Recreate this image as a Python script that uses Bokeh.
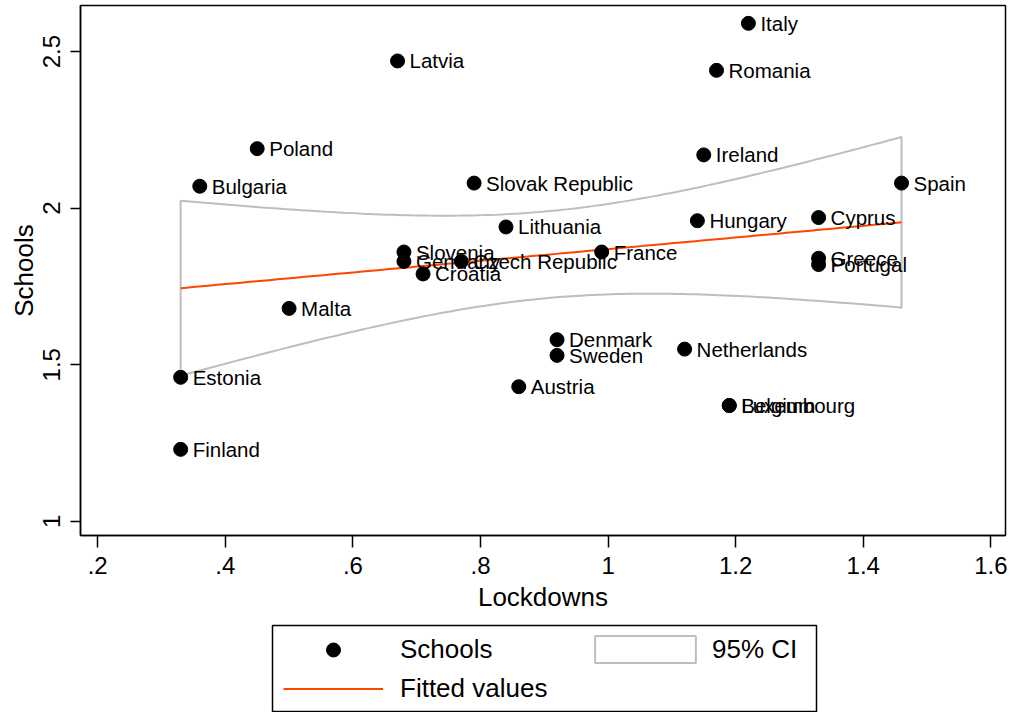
import numpy as np
from bokeh.plotting import figure
from bokeh.layouts import column
from bokeh.models import (ColumnDataSource, Legend, LegendItem, FixedTicker,
                          Range1d, BoxAnnotation)
from bokeh.core.properties import value
from bokeh.embed import file_html
from bokeh.resources import INLINE

FONT = "Liberation Sans"
DOT_COLOR = "black"
FIT_COLOR = "#ff4500"
CI_COLOR = "#bebebe"

countries = ["Italy", "Latvia", "Romania", "Poland", "Ireland", "Bulgaria",
             "Slovak Republic", "Spain", "Cyprus", "Hungary", "Lithuania",
             "Slovenia", "Germany", "Czech Republic", "Croatia", "France",
             "Greece", "Portugal", "Malta", "Denmark", "Sweden", "Netherlands",
             "Estonia", "Austria", "Belgium", "Luxembourg", "Finland"]
lockdowns = [1.22, 0.67, 1.17, 0.45, 1.15, 0.36,
             0.79, 1.46, 1.33, 1.14, 0.84,
             0.68, 0.68, 0.77, 0.71, 0.99,
             1.33, 1.33, 0.50, 0.92, 0.92, 1.12,
             0.33, 0.86, 1.19, 1.19, 0.33]
schools = [2.59, 2.47, 2.44, 2.19, 2.17, 2.07,
           2.08, 2.08, 1.97, 1.96, 1.94,
           1.86, 1.83, 1.83, 1.79, 1.86,
           1.84, 1.82, 1.68, 1.58, 1.53, 1.55,
           1.46, 1.43, 1.37, 1.37, 1.23]

x_ticks = [0.2, 0.4, 0.6, 0.8, 1.0, 1.2, 1.4, 1.6]
x_tick_labels = [".2", ".4", ".6", ".8", "1", "1.2", "1.4", "1.6"]
y_ticks = [1.0, 1.5, 2.0, 2.5]
y_tick_labels = ["1", "1.5", "2", "2.5"]

# Linear fit with 95% confidence band for the mean prediction
x = np.array(lockdowns)
y = np.array(schools)
n = len(x)
slope, intercept = np.polyfit(x, y, 1)
resid = y - (intercept + slope * x)
s = np.sqrt((resid ** 2).sum() / (n - 2))
xbar = x.mean()
sxx = ((x - xbar) ** 2).sum()
t_crit = 2.0595  # t quantile (0.975) with n - 2 = 25 degrees of freedom
xs = np.linspace(x.min(), x.max(), 120)
fit = intercept + slope * xs
half = t_crit * s * np.sqrt(1.0 / n + (xs - xbar) ** 2 / sxx)
lo = fit - half
hi = fit + half

BORDER_L, FRAME_W, BORDER_R = 80, 925, 6

# ---- main scatter plot ----
p = figure(frame_width=FRAME_W, frame_height=530,
           x_range=Range1d(0.173, 1.623), y_range=Range1d(0.955, 2.647),
           output_backend="svg", toolbar_location=None,
           min_border_left=BORDER_L, min_border_right=BORDER_R,
           min_border_top=5, min_border_bottom=85,
           background_fill_color="white", border_fill_color="white")
p.outline_line_color = "black"
p.outline_line_width = 1.5
p.xgrid.visible = False
p.ygrid.visible = False

p.patch(np.concatenate([xs, xs[::-1]]), np.concatenate([lo, hi[::-1]]),
        fill_alpha=0, line_color=CI_COLOR, line_width=2)
p.line(xs, fit, line_color=FIT_COLOR, line_width=2)

src = ColumnDataSource(dict(x=lockdowns, y=schools, name=countries))
p.scatter("x", "y", source=src, size=14, marker="circle",
          fill_color=DOT_COLOR, line_color=DOT_COLOR)
p.text("x", "y", text="name", source=src, x_offset=12, text_baseline="middle",
       text_align="left", text_font=value(FONT), text_font_size="20.5px",
       text_color="black")

for ax in (p.xaxis[0], p.yaxis[0]):
    ax.axis_line_color = "black"
    ax.axis_line_width = 1.5
    ax.major_tick_line_color = "black"
    ax.major_tick_line_width = 1.5
    ax.major_tick_in = 0
    ax.minor_tick_line_color = None
    ax.major_label_text_font = FONT
    ax.major_label_text_font_size = "24px"
    ax.major_label_text_color = "black"
    ax.axis_label_text_font = FONT
    ax.axis_label_text_font_size = "26px"
    ax.axis_label_text_font_style = "normal"
    ax.axis_label_text_color = "black"

p.xaxis.ticker = FixedTicker(ticks=x_ticks)
p.xaxis.major_label_overrides = dict(zip(x_ticks, x_tick_labels))
p.xaxis.axis_label = "Lockdowns"
p.xaxis.major_tick_out = 12
p.xaxis.major_label_standoff = 9
p.xaxis.axis_label_standoff = 5

p.yaxis.ticker = FixedTicker(ticks=y_ticks)
p.yaxis.major_label_overrides = dict(zip(y_ticks, y_tick_labels))
p.yaxis.axis_label = "Schools"
p.yaxis.major_tick_out = 10
p.yaxis.major_label_orientation = "vertical"
p.yaxis.major_label_standoff = 10
p.yaxis.axis_label_standoff = 2

# ---- legend strip below the plot ----
LEG_H = 92
leg = figure(frame_width=FRAME_W, frame_height=LEG_H,
             x_range=Range1d(0, 1), y_range=Range1d(0, 1),
             output_backend="svg", toolbar_location=None,
             min_border_left=BORDER_L, min_border_right=BORDER_R,
             min_border_top=0, min_border_bottom=0,
             background_fill_color="white", border_fill_color="white")
leg.axis.visible = False
leg.grid.visible = False
leg.outline_line_color = None

# legend box
leg.add_layout(BoxAnnotation(left=272, right=816, top=5, bottom=91,
                             left_units="canvas", right_units="canvas",
                             top_units="canvas", bottom_units="canvas",
                             fill_alpha=0, line_color="black", line_alpha=1,
                             line_width=1.5))

# key glyphs: styled like the plot's renderers, holding no drawable point
key_src = ColumnDataSource(dict(x=[np.nan], y=[np.nan]))
key_pts = leg.scatter("x", "y", source=key_src, size=14, marker="circle",
                      fill_color=DOT_COLOR, line_color=DOT_COLOR)
key_fit = leg.line("x", "y", source=key_src, line_color=FIT_COLOR, line_width=2)
key_ci = leg.patch("x", "y", source=key_src, fill_alpha=0,
                   line_color=CI_COLOR, line_width=2)


def make_legend(label, renderer, loc, glyph_w, glyph_h, standoff):
    lg = Legend(items=[LegendItem(label=label, renderers=[renderer])],
                location=loc)
    lg.label_text_font = FONT
    lg.label_text_font_size = "26px"
    lg.label_text_color = "black"
    lg.glyph_width = glyph_w
    lg.glyph_height = glyph_h
    lg.label_standoff = standoff
    lg.spacing = 0
    lg.padding = 0
    lg.margin = 0
    lg.border_line_color = None
    lg.background_fill_alpha = 0
    return lg


leg.add_layout(make_legend("Schools", key_pts, (203, 45), 100, 35, 17), "center")
leg.add_layout(make_legend("Fitted values", key_fit, (203, 8.5), 100, 27, 17), "center")
leg.add_layout(make_legend("95% CI", key_ci, (502, 46), 126, 34, 4), "center")

layout = column(p, leg, spacing=0)
open("out.html", "w").write(file_html(layout, INLINE))
